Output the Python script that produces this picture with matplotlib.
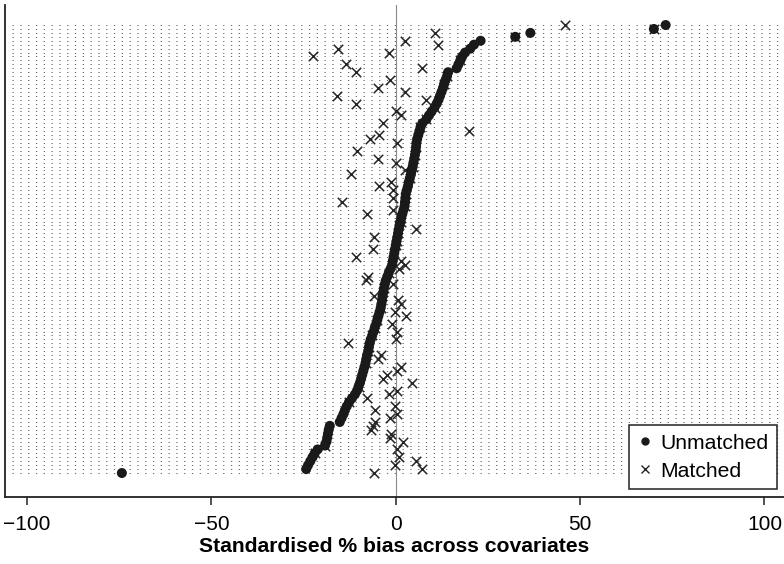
import matplotlib
matplotlib.use("Agg")
import matplotlib.pyplot as plt
from matplotlib.lines import Line2D

plt.rcParams['font.family'] = ['Liberation Sans', 'DejaVu Sans']

# Standardised % bias per covariate, sorted by unmatched bias (bottom -> top)
unmatched = [
    -74.3, -24.3, -23.8, -23.2, -22.6, -22.0, -21.2, -19.2, -18.8, -18.6,
    -18.4, -18.2, -17.9, -15.2, -14.7, -14.2, -13.8, -13.3, -12.7, -11.9,
    -11.1, -10.5, -10.1, -9.7, -9.4, -9.1, -8.8, -8.5, -8.2, -8.0,
    -7.8, -7.5, -7.3, -7.1, -6.8, -6.4, -6.0, -5.7, -5.3, -5.0,
    -4.7, -4.4, -4.1, -3.9, -3.7, -3.6, -3.4, -3.2, -3.0, -2.7,
    -2.3, -1.9, -1.4, -1.0, -0.8, -0.6, -0.4, -0.2, 0.0, 0.2,
    0.4, 0.6, 0.8, 1.0, 1.3, 1.5, 1.8, 2.1, 2.4, 2.5,
    2.6, 2.7, 3.0, 3.3, 3.5, 3.8, 4.1, 4.3, 4.6, 4.8,
    5.0, 5.2, 5.4, 5.5, 5.6, 5.8, 6.1, 6.4, 6.7, 7.2,
    8.3, 9.0, 9.7, 10.5, 11.1, 11.6, 12.0, 12.4, 12.8, 13.1,
    13.5, 13.9, 14.2, 16.5, 17.0, 17.5, 18.0, 18.8, 20.2, 21.2,
    23.0, 32.4, 36.5, 70.0, 73.2,
]

matched = [
    -5.9, 7.2, -0.3, 5.4, 0.9, -22.0, 0.4, -19.2, 2.0, -1.6,
    -1.2, -6.6, -6.2, -5.7, -1.6, 0.2, -5.7, -0.3, -12.7, -7.7,
    -1.8, 0.2, -10.1, 4.3, -3.4, -2.5, 0.2, 1.3, -8.2, -4.8,
    -3.9, -7.5, -7.3, -12.9, 0.0, -6.4, 0.2, -5.7, -0.9, -5.0,
    2.7, -0.3, -4.1, 1.3, 0.6, -5.9, -3.4, -3.2, -0.7, -8.1,
    -7.5, -1.9, 0.9, 2.4, 1.5, -10.8, -0.4, -6.3, 0.0, 0.2,
    -5.9, 0.6, 5.6, 1.0, 1.3, 1.5, -7.8, -0.7, 2.4, -14.5,
    -0.7, 2.7, -0.7, -4.6, -1.2, 3.8, -12.2, 2.4, 4.6, 0.0,
    -4.8, 5.2, -10.5, 5.5, 0.2, -7.1, -4.5, 19.9, 6.7, -3.4,
    8.3, 1.5, 0.0, 10.5, -10.7, 8.3, -15.9, 2.4, -4.8, 13.1,
    -1.6, 13.9, -10.8, 7.0, -13.4, 17.5, -22.4, -1.9, -15.6, 11.5,
    2.4, 32.4, 10.6, 70.0, 45.8,
]

xticks = [-100, -50, 0, 50, 100]
xticklabels = ['\u2212100', '\u221250', '0', '50', '100']
xlabel = 'Standardised % bias across covariates'
legend_labels = ['Unmatched', 'Matched']

fig = plt.figure(figsize=(7.84, 5.64), dpi=100)
ax = fig.add_axes([5 / 784, 1 - 497 / 564, 779 / 784, 492 / 564])

rows = list(range(len(unmatched)))

ax.hlines(rows, -104, 104, colors='#6e6e6e', linewidth=0.72,
          linestyles=[(0, (1.3, 6.5))], zorder=1)
ax.axvline(0, color='#8a8a8a', linewidth=0.8, zorder=1.5)

ax.scatter(matched, rows, marker='x', s=46, color='#262626',
           linewidths=1.1, zorder=2)
ax.scatter(unmatched, rows, marker='o', s=52, color='#1a1a1a',
           edgecolors='none', zorder=3)

ax.set_xlim(-106.0, 105.3)
ax.set_ylim(-6.1, 119.1)

for s in ['top', 'right']:
    ax.spines[s].set_visible(False)
for s in ['left', 'bottom']:
    ax.spines[s].set_linewidth(1.3)
    ax.spines[s].set_color('#222222')

ax.set_yticks([])
ax.set_xticks(xticks)
ax.set_xticklabels(xticklabels, fontsize=15)
ax.tick_params(axis='x', direction='out', length=6, width=1.1,
               color='#222222', pad=7)
ax.set_xlabel(xlabel, fontsize=15.2, fontweight='bold', labelpad=2)

handles = [
    Line2D([], [], marker='o', linestyle='none', color='#1a1a1a', markersize=5),
    Line2D([], [], marker='x', linestyle='none', color='#262626', markersize=6,
           markeredgewidth=1.0),
]
leg = ax.legend(handles, legend_labels, loc='lower right',
                bbox_to_anchor=(0.991, 0.016), borderaxespad=0,
                fontsize=15.2, frameon=True, fancybox=False,
                handlelength=0.72, handletextpad=0.35, borderpad=0.4,
                labelspacing=0.43)
leg.get_frame().set_edgecolor('#222222')
leg.get_frame().set_linewidth(1.1)
leg.get_frame().set_facecolor('white')
leg.get_frame().set_alpha(1)

fig.savefig('out.png', dpi=100)
